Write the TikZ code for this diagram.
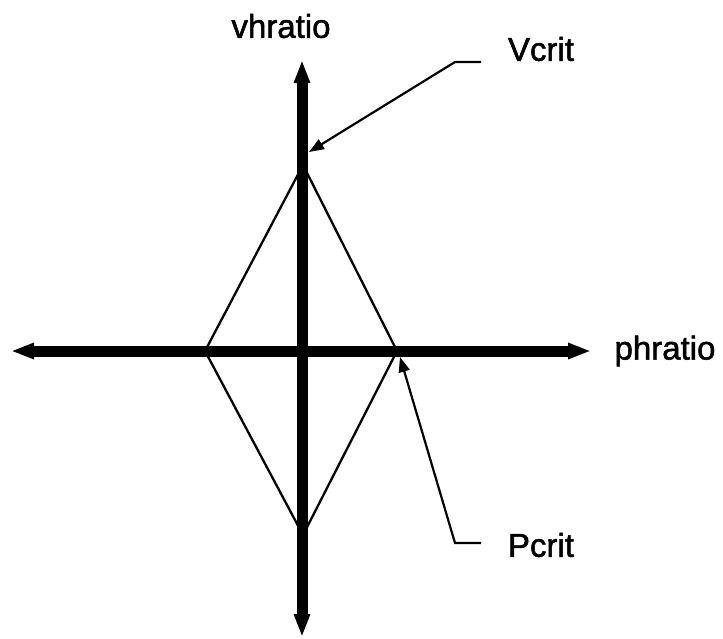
\documentclass[tikz,border=0pt]{standalone}
\usepackage{fontspec}
\setmainfont{Liberation Sans}
\newfontfamily\lblfont[FakeBold=1.5]{Liberation Sans}
\usetikzlibrary{arrows.meta}
\begin{document}
\begin{tikzpicture}[x=1pt,y=-1pt,
  axisline/.style={line width=11pt,{Triangle[length=23pt,width=15pt]}-{Triangle[length=23pt,width=15pt]}},
  edge/.style={line width=2.3pt},
  leader/.style={line width=2.2pt,-{Triangle[length=15pt,width=11pt]}},
  lbl/.style={font=\lblfont\fontsize{33}{36}\selectfont,inner sep=0pt}]
\useasboundingbox (0,0) rectangle (723,638);
\coordinate (vtop) at (302,60);
\coordinate (vbot) at (302,637);
\coordinate (hleft) at (11,351);
\coordinate (hright) at (591,351);
\coordinate (T) at (303,165);
\coordinate (B) at (303,535);
\coordinate (L) at (205,351);
\coordinate (R) at (397,351);
\draw[edge] (T) -- (R) -- (B) -- (L) -- cycle;
\draw[axisline] (vbot) -- (vtop);
\draw[axisline] (hleft) -- (hright);
\node[lbl] (vh) at (281,26) {vhratio};
\node[lbl] (ph) at (665,351) {phratio};
\node[lbl] (vc) at (541,49) {Vcrit};
\node[lbl] (pc) at (541,545) {Pcrit};
\coordinate (va) at (481,62);
\coordinate (vb) at (455,62);
\coordinate (vt) at (309,152);
\coordinate (pa) at (481,543);
\coordinate (pb) at (455,543);
\coordinate (pt) at (400,357);
\draw[leader] (va) -- (vb) -- (vt);
\draw[leader] (pa) -- (pb) -- (pt);
\end{tikzpicture}
\end{document}
